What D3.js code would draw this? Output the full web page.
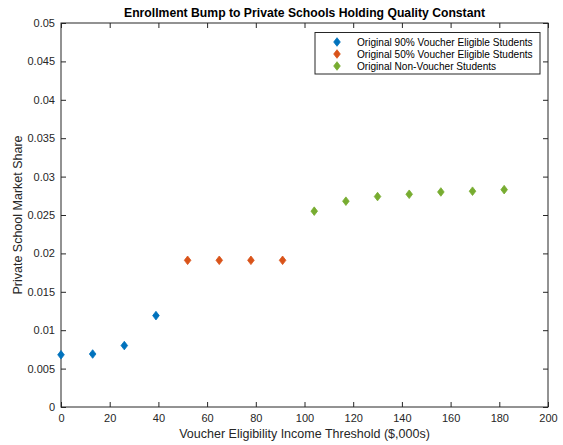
<!DOCTYPE html>
<html>
<head>
<meta charset="utf-8">
<script src="https://cdn.jsdelivr.net/npm/d3@7"></script>
<style>
  body { margin: 0; background: #fff; }
  text { font-family: "Liberation Sans", Arial, Helvetica, sans-serif; }
</style>
</head>
<body>
<svg id="canvas" width="563" height="445"></svg>
<script>
// income thresholds ($,000s) and market share for each student group
let thresholds90 = [0, 13, 26, 39];
let share90 = [0.0068, 0.0069, 0.0080, 0.0119];
let thresholds50 = [52, 65, 78, 91];
let share50 = [0.0191, 0.0191, 0.0191, 0.0191];
let thresholdsNon = [104, 117, 130, 143, 156, 169, 182];
let shareNon = [0.0255, 0.0268, 0.0274, 0.0277, 0.0280, 0.0281, 0.0283];

let seriesNames = ['Original 90% Voucher Eligible Students', 'Original 50% Voucher Eligible Students', 'Original Non-Voucher Students'];
let seriesColors = ['#0072BD', '#D95319', '#77AC30'];

let xTicks = [0, 20, 40, 60, 80, 100, 120, 140, 160, 180, 200];
let yTicks = [0, 0.005, 0.01, 0.015, 0.02, 0.025, 0.03, 0.035, 0.04, 0.045, 0.05];

let series = [
    { x: thresholds90, y: share90 },
    { x: thresholds50, y: share50 },
    { x: thresholdsNon, y: shareNon }
];

let plotLeft = 61, plotRight = 548, plotTop = 23, plotBottom = 407;
let axisColor = '#262626';

let canvas = d3.select('#canvas');

let xScale = d3.scaleLinear().domain([0, 200]).range([plotLeft, plotRight]);
let yScale = d3.scaleLinear().domain([0, 0.05]).range([plotBottom, plotTop]);

// diamond marker like matlab's 'd'
let diamond = (cx, cy) => {
    let p = d3.path();
    p.moveTo(cx, cy - 4.3);
    p.lineTo(cx + 3.3, cy);
    p.lineTo(cx, cy + 4.3);
    p.lineTo(cx - 3.3, cy);
    p.closePath();
    return p.toString();
};

let styleAxis = (g) => {
    g.select('.domain').remove();
    g.selectAll('line').attr('stroke', axisColor);
    g.selectAll('text').attr('fill', axisColor).style('font-size', '11px');
};

// bottom axis, ticks point inward
canvas.append('g')
    .attr('transform', `translate(0,${plotBottom})`)
    .call(d3.axisBottom(xScale).tickValues(xTicks).tickSizeInner(-5).tickSizeOuter(0).tickPadding(7).tickFormat(d3.format('d')))
    .call(styleAxis);

// top axis ticks only
canvas.append('g')
    .attr('transform', `translate(0,${plotTop})`)
    .call(d3.axisTop(xScale).tickValues(xTicks).tickSizeInner(-5).tickSizeOuter(0).tickFormat(''))
    .call(styleAxis);

// left axis
canvas.append('g')
    .attr('transform', `translate(${plotLeft},0)`)
    .call(d3.axisLeft(yScale).tickValues(yTicks).tickSizeInner(-5).tickSizeOuter(0).tickPadding(6).tickFormat((d) => d === 0 ? '0' : String(+d.toFixed(3))))
    .call(styleAxis);

// right axis ticks only
canvas.append('g')
    .attr('transform', `translate(${plotRight},0)`)
    .call(d3.axisRight(yScale).tickValues(yTicks).tickSizeInner(-5).tickSizeOuter(0).tickFormat(''))
    .call(styleAxis);

// box
canvas.append('rect')
    .attr('x', plotLeft)
    .attr('y', plotTop)
    .attr('width', plotRight - plotLeft)
    .attr('height', plotBottom - plotTop)
    .attr('fill', 'none')
    .attr('stroke', axisColor)
    .attr('stroke-width', 1);

// points
series.forEach((s, i) => {
    canvas.append('g')
        .selectAll('path')
        .data(s.x.map((x, j) => [x, s.y[j]]))
        .enter()
        .append('path')
        .attr('d', (d) => diamond(xScale(d[0]), yScale(d[1])))
        .attr('fill', seriesColors[i])
        .attr('stroke', seriesColors[i])
        .attr('stroke-width', 0.8);
});

// title and axis labels
canvas.append('text')
    .attr('x', (plotLeft + plotRight) / 2)
    .attr('y', 17)
    .attr('text-anchor', 'middle')
    .style('font-size', '12.2px')
    .style('font-weight', 'bold')
    .attr('fill', '#000')
    .text('Enrollment Bump to Private Schools Holding Quality Constant');

canvas.append('text')
    .attr('x', (plotLeft + plotRight) / 2)
    .attr('y', 437.5)
    .attr('text-anchor', 'middle')
    .style('font-size', '12.5px')
    .attr('fill', axisColor)
    .text('Voucher Eligibility Income Threshold ($,000s)');

canvas.append('text')
    .attr('transform', `translate(22,${(plotTop + plotBottom) / 2}) rotate(-90)`)
    .attr('text-anchor', 'middle')
    .style('font-size', '12.5px')
    .attr('fill', axisColor)
    .text('Private School Market Share');

// legend
let legend = canvas.append('g');
legend.append('rect')
    .attr('x', 315)
    .attr('y', 32.5)
    .attr('width', 225)
    .attr('height', 41.5)
    .attr('fill', '#fff')
    .attr('stroke', axisColor)
    .attr('stroke-width', 1);

seriesNames.forEach((name, i) => {
    let ry = 42 + i * 12;
    legend.append('path')
        .attr('d', diamond(337, ry))
        .attr('fill', seriesColors[i])
        .attr('stroke', seriesColors[i])
        .attr('stroke-width', 0.8);
    legend.append('text')
        .attr('x', 357)
        .attr('y', ry + 3.6)
        .style('font-size', '10.1px')
        .attr('fill', '#000')
        .text(name);
});
</script>
</body>
</html>
